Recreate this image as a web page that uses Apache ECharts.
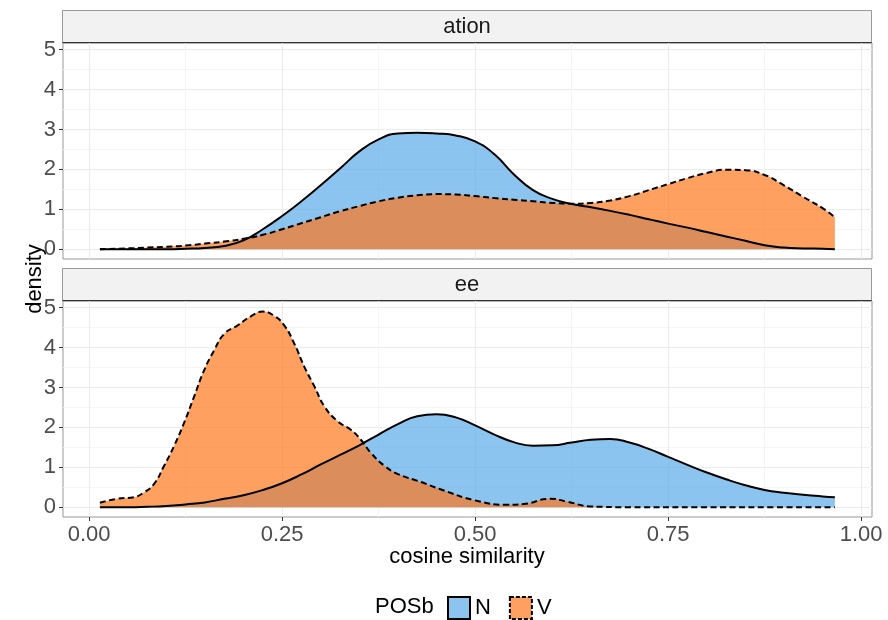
<!DOCTYPE html>
<html>
<head>
<meta charset="utf-8">
<title>density by POSb</title>
<script src="https://cdn.jsdelivr.net/npm/echarts@6/dist/echarts.min.js"></script>
<style>
  html, body { margin: 0; padding: 0; background: #fff; }
  #chart { width: 888px; height: 620px; }
</style>
</head>
<body>
<div id="chart"></div>
<script>
// cosine similarity positions where the curves were read
const cosX = [0.014, 0.05, 0.075, 0.1, 0.125, 0.15, 0.175, 0.2, 0.225, 0.25,
  0.275, 0.3, 0.325, 0.35, 0.375, 0.4, 0.425, 0.45, 0.475, 0.5,
  0.525, 0.55, 0.575, 0.6, 0.625, 0.65, 0.675, 0.7, 0.725, 0.75,
  0.775, 0.8, 0.825, 0.85, 0.875, 0.9, 0.925, 0.95, 0.966];

// facet "ation"
const ationN = [0, 0, 0, 0, 0.01, 0.03, 0.08, 0.22, 0.5, 0.83,
  1.2, 1.6, 2.02, 2.45, 2.75, 2.9, 2.92, 2.9, 2.85, 2.7,
  2.38, 1.88, 1.48, 1.26, 1.13, 1.05, 0.96, 0.86, 0.75, 0.64,
  0.54, 0.43, 0.32, 0.21, 0.1, 0.04, 0.02, 0.01, 0];
const ationV = [0, 0.02, 0.04, 0.06, 0.09, 0.14, 0.19, 0.26, 0.36, 0.5,
  0.65, 0.8, 0.95, 1.08, 1.2, 1.29, 1.35, 1.38, 1.37, 1.33,
  1.28, 1.24, 1.2, 1.16, 1.14, 1.16, 1.22, 1.33, 1.48, 1.63,
  1.78, 1.91, 1.99, 1.98, 1.86, 1.6, 1.31, 1.03, 0.8];

// facet "ee"
const eeN = [0, 0, 0.01, 0.03, 0.07, 0.12, 0.21, 0.3, 0.43, 0.6,
  0.82, 1.07, 1.31, 1.55, 1.82, 2.08, 2.28, 2.33, 2.25, 2.05,
  1.82, 1.63, 1.54, 1.55, 1.62, 1.69, 1.71, 1.62, 1.46, 1.26,
  1.06, 0.87, 0.7, 0.55, 0.43, 0.36, 0.31, 0.27, 0.25];
// V in "ee" has a sharp peak, read at its own positions
const eeVX = [0.014, 0.036, 0.058, 0.071, 0.084, 0.097, 0.11, 0.123, 0.136, 0.149,
  0.162, 0.175, 0.192, 0.21, 0.225, 0.24, 0.253, 0.266, 0.279, 0.292,
  0.305, 0.322, 0.339, 0.352, 0.365, 0.383, 0.4, 0.43, 0.455, 0.5,
  0.541, 0.563, 0.597, 0.619, 0.649, 0.7, 0.8, 0.9, 0.966];
const eeV = [0.11, 0.21, 0.25, 0.37, 0.58, 1.03, 1.53, 2.11, 2.77, 3.43,
  3.93, 4.34, 4.55, 4.79, 4.9, 4.79, 4.55, 4.09, 3.51, 3.02,
  2.52, 2.15, 1.94, 1.69, 1.36, 1.03, 0.83, 0.63, 0.45, 0.17,
  0.06, 0.08, 0.21, 0.14, 0.02, 0, 0, 0, 0];

const xMajor = [0, 0.25, 0.5, 0.75, 1];
const xMinor = [0.125, 0.375, 0.625, 0.875];
const yMajor = [0, 1, 2, 3, 4, 5];
const yMinor = [0.5, 1.5, 2.5, 3.5, 4.5];

const font = 'Liberation Sans, Arial, sans-serif';
const fills = {N: '#5BABEA', V: '#FC771C'};
const panels = [{top: 43, strip: 10, label: 'ation'}, {top: 301, strip: 268, label: 'ee'}];

const chart = echarts.init(document.getElementById('chart'));

const xAxes = [], yAxes = [];
panels.forEach((p, i) => {
  const bottom = i === panels.length - 1;
  xAxes.push({
    gridIndex: i, type: 'value', position: 'bottom', min: -0.0338, max: 1.0141,
    axisLine: {show: false, onZero: false},
    axisTick: {show: bottom, customValues: xMajor, length: 4, lineStyle: {color: '#333', width: 1}},
    axisLabel: {show: bottom, customValues: xMajor, margin: 7, fontSize: 22, color: '#4d4d4d',
      fontFamily: font, formatter: v => v.toFixed(2)},
    splitLine: {show: true, lineStyle: {color: '#ebebeb', width: 1.1}}
  });
  xAxes.push({
    gridIndex: i, type: 'value', position: 'bottom', min: -0.0338, max: 1.0141,
    axisLine: {show: false, onZero: false},
    axisTick: {show: false, customValues: xMinor},
    axisLabel: {show: false, customValues: xMinor},
    splitLine: {show: true, lineStyle: {color: '#f2f2f2', width: 0.8}}
  });
  yAxes.push({
    gridIndex: i, type: 'value', position: 'left', min: -0.246, max: 5.166,
    axisLine: {show: false, onZero: false},
    axisTick: {show: true, customValues: yMajor, length: 4, lineStyle: {color: '#333', width: 1}},
    axisLabel: {customValues: yMajor, margin: 7, fontSize: 22, color: '#4d4d4d', fontFamily: font},
    splitLine: {show: true, lineStyle: {color: '#ebebeb', width: 1.1}}
  });
  yAxes.push({
    gridIndex: i, type: 'value', position: 'left', min: -0.246, max: 5.166,
    axisLine: {show: false, onZero: false},
    axisTick: {show: false, customValues: yMinor},
    axisLabel: {show: false, customValues: yMinor},
    splitLine: {show: true, lineStyle: {color: '#f2f2f2', width: 0.8}}
  });
});

function densitySeries(name, xs, ys, i) {
  return {
    name: name, type: 'line', xAxisIndex: i * 2, yAxisIndex: i * 2,
    data: xs.map((x, k) => [x, ys[k]]),
    smooth: 0.5, showSymbol: false, symbol: 'none', silent: true,
    itemStyle: {color: fills[name]},
    lineStyle: {color: '#000', width: 2, type: name === 'V' ? [6, 3.5] : 'solid'},
    areaStyle: {color: fills[name], opacity: 0.7},
    emphasis: {disabled: true}
  };
}

const graphics = [];
panels.forEach(p => {
  graphics.push({type: 'rect', shape: {x: 62.5, y: p.strip + 0.5, width: 809, height: p.top - p.strip - 0.5},
    style: {fill: '#f2f2f2', stroke: '#999', lineWidth: 1}});
  graphics.push({type: 'line', shape: {x1: 62.5, y1: p.top - 0.5, x2: 871.5, y2: p.top - 0.5},
    style: {stroke: '#333', lineWidth: 1}});
  graphics.push({type: 'text', x: 467, y: (p.strip + p.top) / 2,
    style: {text: p.label, font: '22px ' + font, fill: '#1a1a1a', align: 'center', verticalAlign: 'middle'}});
});
graphics.push({type: 'text', x: 35, y: 279, rotation: Math.PI / 2,
  style: {text: 'density', font: '22px ' + font, fill: '#000', align: 'center', verticalAlign: 'middle'}});
graphics.push({type: 'text', x: 467, y: 557,
  style: {text: 'cosine similarity', font: '22px ' + font, fill: '#000', align: 'center', verticalAlign: 'middle'}});
graphics.push({type: 'text', x: 375, y: 607,
  style: {text: 'POSb', font: '22px ' + font, fill: '#000', align: 'left', verticalAlign: 'middle'}});

chart.setOption({
  animation: false,
  backgroundColor: '#fff',
  grid: panels.map(p => ({left: 63, right: 16, top: p.top, height: 216, show: true,
    borderColor: '#999', borderWidth: 1, backgroundColor: '#fff'})),
  xAxis: xAxes,
  yAxis: yAxes,
  legend: {
    left: 447, top: 596, padding: 0, itemWidth: 22, itemHeight: 22, itemGap: 18, selectedMode: false,
    textStyle: {fontSize: 22, color: '#000', fontFamily: font},
    data: [
      {name: 'N', icon: 'rect', itemStyle: {color: 'rgba(91,171,234,0.7)', borderColor: '#000', borderWidth: 2}},
      {name: 'V', icon: 'rect', itemStyle: {color: 'rgba(252,119,28,0.7)', borderColor: '#000', borderWidth: 2, borderType: [4, 2]}}
    ]
  },
  graphic: graphics,
  series: [
    densitySeries('N', cosX, ationN, 0),
    densitySeries('V', cosX, ationV, 0),
    densitySeries('N', cosX, eeN, 1),
    densitySeries('V', eeVX, eeV, 1)
  ]
});
</script>
</body>
</html>
